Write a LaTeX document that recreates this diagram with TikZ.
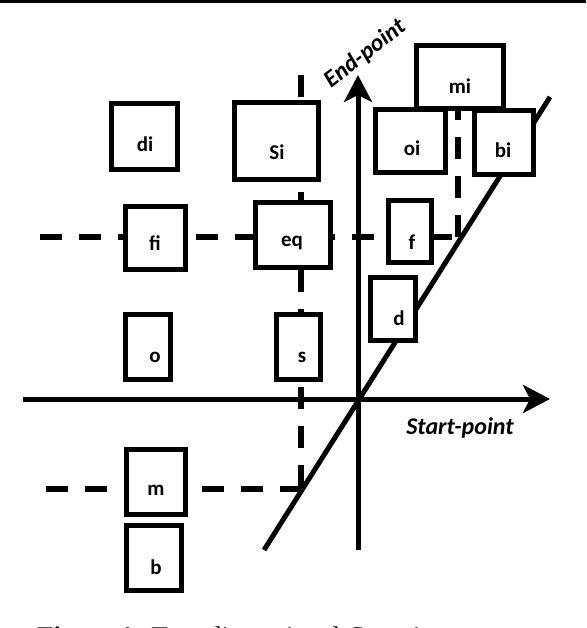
\documentclass[tikz,border=0pt]{standalone}
\usepackage{fontspec}
\setmainfont{Carlito}
\newfontfamily\capfont{Liberation Serif}
\usetikzlibrary{arrows.meta}
\begin{document}
\begin{tikzpicture}[x=1pt,y=-1pt,
  box/.style={draw,line width=5pt,fill=white,inner sep=0pt,outer sep=0pt},
  lbl/.style={font=\fontsize{21}{21}\selectfont\bfseries,inner sep=0pt},
  axlbl/.style={font=\fontsize{24}{24}\selectfont\bfseries\itshape,inner sep=0pt},
  dsh/.style={line width=6pt,dash pattern=on 22pt off 17pt},
  ax/.style={line width=5pt},
  tip/.style={-{Stealth[length=27pt,width=28pt,inset=7pt]}}
]
\useasboundingbox (0,0) rectangle (586,628);
\clip (0,0) rectangle (586,628);
% top rule
\fill (0,0) rectangle (586,3);
% dashed guide lines
\coordinate (h1s) at (40,237);
\coordinate (p1) at (458,237);
\coordinate (v1e) at (458,100);
\coordinate (v2s) at (301,75);
\coordinate (p2) at (301,489);
\coordinate (h2s) at (46,489);
\draw[dsh] (h1s) -- (p1);
\draw[dsh] (p1) -- (v1e);
\draw[dsh] (v2s) -- (p2);
\draw[dsh] (h2s) -- (p2);
% axes and diagonal
\coordinate (xs) at (23,399);
\coordinate (xe) at (550,399);
\coordinate (ys) at (358,550);
\coordinate (ye) at (358,75);
\coordinate (ds) at (264,550);
\coordinate (de) at (550,97);
\draw[ax,tip] (xs) -- (xe);
\draw[ax,tip] (ys) -- (ye);
\draw[ax] (ds) -- (de);
\node[axlbl] (xl) at (460,428) {Start-point};
\node[axlbl,rotate=38] (yl) at (365,54) {End-point};
% boxes
\node[box,minimum width=66pt,minimum height=66pt] (di) at (144.5,136.5) {};
\node[box,minimum width=84pt,minimum height=77pt] (si) at (276.5,141) {};
\node[box,minimum width=60pt,minimum height=63pt] (fi) at (155.5,238) {};
\node[box,minimum width=75pt,minimum height=65pt] (eq) at (293,235) {};
\node[box,minimum width=43pt,minimum height=62pt] (f) at (410,231.5) {};
\node[box,minimum width=70pt,minimum height=63pt] (oi) at (410.5,141) {};
\node[box,minimum width=59pt,minimum height=64pt] (bi) at (504,142.5) {};
\node[box,minimum width=87pt,minimum height=63pt] (mi) at (460,77) {};
\node[box,minimum width=45pt,minimum height=63pt] (d) at (393,309) {};
\node[box,minimum width=45pt,minimum height=65pt] (o) at (148,347) {};
\node[box,minimum width=44pt,minimum height=65pt] (s) at (298.5,347) {};
\node[box,minimum width=59pt,minimum height=65pt] (m) at (156,482) {};
\node[box,minimum width=55pt,minimum height=65pt] (b) at (154,558) {};
% labels
\node[lbl] (diL) at (145,144) {di};
\node[lbl] (siL) at (277,152) {Si};
\node[lbl] (fiL) at (155,243) {fi};
\node[lbl] (eqL) at (292,243) {eq};
\node[lbl] (fL) at (412,242) {f};
\node[lbl] (oiL) at (412,148) {oi};
\node[lbl] (miL) at (460,86) {mi};
\node[lbl] (biL) at (503,150) {bi};
\node[lbl] (dL) at (399,318) {d};
\node[lbl] (oL) at (155,357) {o};
\node[lbl] (sL) at (302,357) {s};
\node[lbl] (mL) at (156,490) {m};
\node[lbl] (bL) at (156,567) {b};
% caption (cut off at the bottom edge)
\begin{scope}
\clip (0,600) rectangle (447,628);
\node[anchor=base west,inner sep=0pt,font=\capfont\fontsize{27}{27}\selectfont] (cap) at (37,645) {\textbf{Figure 1:} Two-dimensional Covariance};
\end{scope}
\end{tikzpicture}
\end{document}
